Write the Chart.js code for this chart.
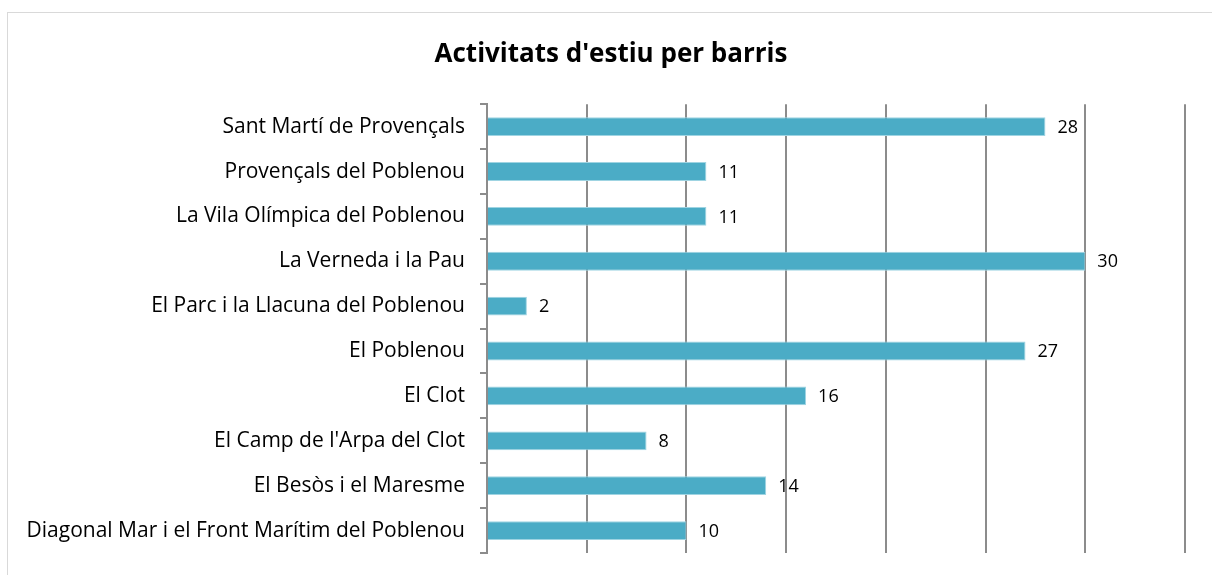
<!DOCTYPE html>
<html>
<head>
<meta charset="utf-8">
<script src="https://cdn.jsdelivr.net/npm/chart.js@4.4.1/dist/chart.umd.min.js"></script>
<style>
    body { margin: 0; background: #fff; }
    #wrap { width: 1212px; height: 575px; }
</style>
</head>
<body>
<div id="wrap"><canvas id="barrisChart" width="1212" height="575"></canvas></div>
<script>
// Barris (top to bottom) and activities
const barris = [
    'Sant Martí de Provençals',
    'Provençals del Poblenou',
    'La Vila Olímpica del Poblenou',
    'La Verneda i la Pau',
    'El Parc i la Llacuna del Poblenou',
    'El Poblenou',
    'El Clot',
    "El Camp de l'Arpa del Clot",
    'El Besòs i el Maresme',
    'Diagonal Mar i el Front Marítim del Poblenou'
];
const activitats = [28, 11, 11, 30, 2, 27, 16, 8, 14, 10];
const xTicks = [0, 5, 10, 15, 20, 25, 30, 35];

const fontFamily = '"Open Sans", sans-serif';

// light frame round the whole chart
const framePlugin = {
    id: 'frame',
    beforeDraw: function (chart) {
        const c = chart.ctx;
        c.save();
        c.strokeStyle = '#d9d9d9';
        c.lineWidth = 1;
        c.strokeRect(7.5, 12.5, 1220, 600);
        c.restore();
    }
};

// value labels after each bar
const valueLabels = {
    id: 'valueLabels',
    afterDatasetsDraw: function (chart) {
        const c = chart.ctx;
        const meta = chart.getDatasetMeta(0);
        c.save();
        c.font = '18px ' + fontFamily;
        c.fillStyle = '#000';
        c.textBaseline = 'middle';
        c.textAlign = 'left';
        meta.data.forEach(function (bar, i) {
            c.fillText(String(activitats[i]), bar.x + 12, bar.y + 1);
        });
        c.restore();
    }
};

const ctx = document.getElementById('barrisChart').getContext('2d');
const barrisChart = new Chart(ctx, {
    type: 'bar',
    data: {
        labels: barris,
        datasets: [{
            data: activitats,
            backgroundColor: '#4bacc6',
            borderColor: '#9fd4e2',
            borderWidth: 1,
            categoryPercentage: 1,
            barPercentage: 0.42
        }]
    },
    options: {
        indexAxis: 'y',
        responsive: false,
        animation: false,
        layout: { padding: { top: 39, right: 7, bottom: 22, left: 17 } },
        plugins: {
            legend: { display: false },
            tooltip: { enabled: false },
            title: {
                display: true,
                text: "Activitats d'estiu per barris",
                color: '#000',
                font: { family: fontFamily, size: 26, weight: 'bold' },
                padding: { top: 0, bottom: 34 }
            }
        },
        scales: {
            x: {
                min: 0,
                max: 36,
                afterBuildTicks: function (scale) {
                    scale.ticks = xTicks.map(function (v) { return { value: v }; });
                },
                afterFit: function (scale) {
                    scale.height = 0;
                    scale.paddingLeft = 0;
                    scale.paddingRight = 0;
                },
                ticks: { display: false },
                border: { display: false },
                grid: { color: '#8c8c8c', lineWidth: 2, drawTicks: false }
            },
            y: {
                offset: true,
                afterFit: function (scale) {
                    scale.width = 470;
                    scale.paddingTop = 0;
                    scale.paddingBottom = 0;
                },
                ticks: {
                    color: '#000',
                    font: { family: fontFamily, size: 21 },
                    padding: 15
                },
                border: { display: true, color: '#8c8c8c', width: 2 },
                grid: {
                    offset: true,
                    drawOnChartArea: false,
                    color: '#8c8c8c',
                    lineWidth: 2,
                    tickLength: 7
                }
            }
        }
    },
    plugins: [framePlugin, valueLabels]
});
</script>
</body>
</html>
